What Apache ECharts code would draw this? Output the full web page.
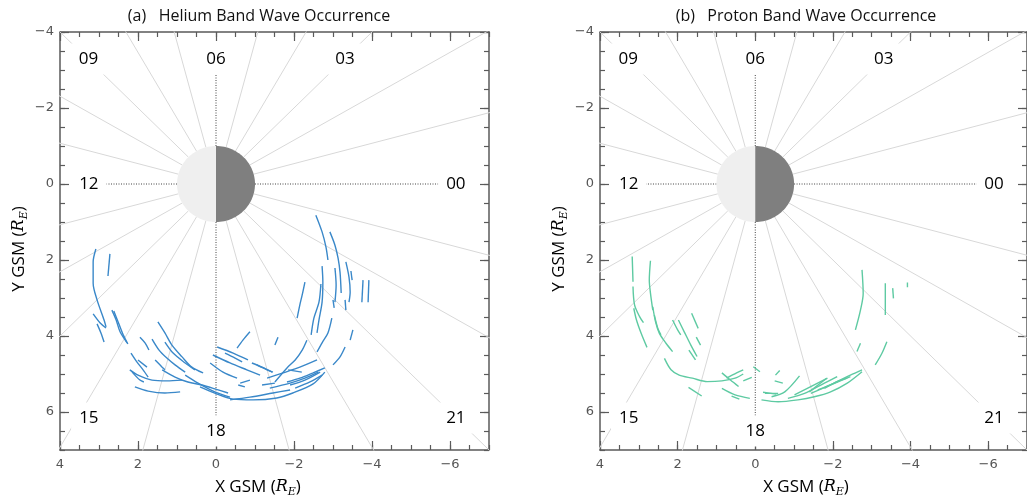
<!DOCTYPE html>
<html>
<head>
<meta charset="utf-8">
<script src="https://cdn.jsdelivr.net/npm/echarts@6/dist/echarts.min.js"></script>
<style>
  html, body { margin: 0; padding: 0; background: #fff; }
  #chart { width: 1027px; height: 501px; }
</style>
</head>
<body>
<div id="chart"></div>
<script>
// ---- axis ranges and tick values (Earth radii, GSM) ----
const xRange = [-7, 4];
const yRange = [-4, 7];
const xMajorTicks = [-6, -4, -2, 0, 2, 4];
const yMajorTicks = [-4, -2, 0, 2, 4, 6];
const minorStep = 0.5;

// ---- panel titles ----
const panelTitles = ['(a)   Helium Band Wave Occurrence', '(b)   Proton Band Wave Occurrence'];

// ---- MLT labels and their anchor points (X, Y in R_E) ----
const mltText = ['09', '06', '03', '12', '00', '15', '18', '21'];
const mltX = [3.27, 0, -3.31, 3.26, -6.15, 3.26, 0, -6.15];
const mltY = [-3.29, -3.29, -3.29, 0, 0, 6.16, 6.5, 6.16];

// ---- wave event orbit segments: [X, Y] points in R_E ----
const heliumSegments = [
  [[3.08,1.71],[3.15,2.05],[3.15,2.61],[3.05,3.05],[2.87,3.58],[2.82,3.76]],
  [[2.72,1.84],[2.77,2.42]],
  [[3.15,3.42],[2.97,3.66],[2.82,3.79]],
  [[3.05,3.68],[2.95,3.92],[2.87,4.16]],
  [[2.67,3.32],[2.56,3.58],[2.46,3.89],[2.28,4.18]],
  [[2.62,3.34],[2.51,3.63],[2.38,3.97],[2.26,4.21]],
  [[1.49,3.63],[1.31,3.92],[1.13,4.24],[0.87,4.55],[0.62,4.82],[0.33,4.97]],
  [[1.95,4.03],[1.82,4.18],[1.72,4.37]],
  [[1.64,4.08],[1.46,4.37],[1.26,4.58],[1.05,4.76],[0.79,4.95]],
  [[1.31,4.16],[1.10,4.45],[0.79,4.71],[0.54,4.89]],
  [[2.18,4.45],[2.03,4.68],[1.87,4.89],[1.74,5.08]],
  [[2.0,4.63],[1.77,4.82]],
  [[1.56,4.63],[1.38,4.82],[1.31,4.89]],
  [[2.21,4.89],[2.0,5.03],[1.64,5.16],[1.26,5.18],[0.87,5.16]],
  [[2.15,4.95],[1.95,5.16],[1.85,5.21]],
  [[2.08,5.34],[1.74,5.45],[1.31,5.5],[0.92,5.47]],
  [[1.38,4.89],[1.05,5.08],[0.72,5.21],[0.36,5.29],[0.03,5.39],[-0.31,5.5]],
  [[0.79,5.03],[0.46,5.24],[0.03,5.47],[-0.36,5.61]],
  [[-0.03,4.29],[-0.44,4.45],[-0.82,4.63]],
  [[0.08,4.5],[-0.36,4.71],[-0.79,4.89],[-1.13,5.03]],
  [[0.15,4.71],[-0.18,4.95],[-0.54,5.11]],
  [[-1.05,4.76],[-1.31,4.89],[-1.46,4.95]],
  [[0.41,5.34],[-0.03,5.53],[-0.44,5.66],[-0.95,5.68],[-1.56,5.63],[-1.97,5.5],[-2.49,5.26],[-2.79,4.95]],
  [[-0.36,5.68],[-0.87,5.61],[-1.46,5.5],[-1.9,5.42]],
  [[-1.31,5.11],[-1.72,4.97],[-2.15,4.82],[-2.59,4.63]],
  [[-1.82,5.21],[-2.15,5.11],[-2.49,4.97],[-2.79,4.84]],
  [[-1.38,5.37],[-1.9,5.24],[-2.28,5.11],[-2.62,4.95]],
  [[-0.87,3.89],[-0.69,4.11],[-0.54,4.32]],
  [[-1.59,4.03],[-1.51,4.24]],
  [[-2.33,4.11],[-2.21,4.37],[-2.03,4.63],[-1.82,4.84],[-1.51,5.21]],
  [[-0.92,4.71],[-1.18,4.82],[-1.44,4.95]],
  [[-0.23,4.45],[-0.49,4.58],[-0.67,4.68]],
  [[-2.56,0.82],[-2.72,1.26],[-2.82,1.66],[-2.87,2.0]],
  [[-2.92,1.26],[-3.05,1.61],[-3.13,1.95],[-3.18,2.32],[-3.21,2.87]],
  [[-2.72,2.16],[-2.74,2.58],[-2.72,3.11],[-2.64,3.58],[-2.59,3.92]],
  [[-3.05,2.21],[-3.08,2.66],[-3.05,3.11]],
  [[-3.33,2.05],[-3.41,2.45],[-3.44,2.84],[-3.41,3.11]],
  [[-3.46,2.29],[-3.49,2.53]],
  [[-3.77,2.53],[-3.74,3.11]],
  [[-3.92,2.53],[-3.9,3.11]],
  [[-2.28,2.58],[-2.21,2.92],[-2.15,3.18],[-2.08,3.53]],
  [[-2.69,2.63],[-2.64,3.11],[-2.51,3.53],[-2.44,3.97]],
  [[-2.97,3.53],[-2.87,3.92],[-2.72,4.18],[-2.59,4.42]],
  [[-3.51,3.84],[-3.44,4.11]],
  [[-3.31,4.29],[-3.18,4.55],[-3.0,4.76]],
  [[-3.0,3.05],[-3.03,3.26]],
  [[-3.31,3.05],[-3.33,3.32]],
  [[-0.62,5.24],[-0.87,5.16]],
  [[-1.18,5.29],[-1.51,5.24]],
  [[-1.9,5.29],[-2.28,5.16],[-2.67,4.95]],
  [[-2.03,5.37],[-2.41,5.21],[-2.72,5.03]],
  [[-1.85,4.89],[-2.2,4.95]],
  [[-0.57,5.29],[-0.74,5.34]]
];

const protonSegments = [
  [[3.17,1.91],[3.15,2.57]],
  [[3.15,2.7],[3.11,3.18],[2.98,3.49],[2.88,3.65]],
  [[3.13,3.27],[3.06,3.58],[2.94,3.93],[2.79,4.3]],
  [[2.7,2.02],[2.73,2.53],[2.7,2.87],[2.64,3.32]],
  [[2.64,3.23],[2.57,3.62],[2.47,3.93],[2.3,4.19],[2.13,4.41]],
  [[2.6,3.45],[2.51,3.8],[2.43,3.97]],
  [[2.13,3.58],[2.0,3.84],[1.92,3.97]],
  [[1.98,3.58],[1.83,3.89],[1.66,4.24],[1.5,4.54]],
  [[1.64,3.4],[1.47,3.8]],
  [[1.52,4.03],[1.41,4.24]],
  [[1.71,4.37],[1.54,4.63]],
  [[2.34,4.59],[2.17,4.89],[1.96,5.03],[1.62,5.11],[1.24,5.2],[0.86,5.18],[0.52,5.11],[0.31,5.0]],
  [[1.72,5.35],[1.38,5.58]],
  [[0.86,4.97],[0.64,5.16],[0.43,5.33]],
  [[0.74,5.11],[0.48,4.97],[0.31,4.89]],
  [[0.86,5.38],[0.52,5.55],[0.14,5.64]],
  [[0.61,5.58],[0.41,5.66]],
  [[0.05,4.81],[-0.12,4.94]],
  [[-0.52,5.03],[-0.63,4.91]],
  [[-0.5,5.18],[-0.71,5.24]],
  [[0.31,5.18],[0.09,5.09]],
  [[-0.2,5.48],[-0.54,5.53]],
  [[-0.42,5.6],[-0.76,5.47],[-1.14,5.05]],
  [[-0.16,5.68],[-0.59,5.73],[-1.1,5.68],[-1.52,5.6],[-1.94,5.47],[-2.37,5.24],[-2.75,4.94]],
  [[-0.84,5.64],[-1.27,5.51],[-1.78,5.24],[-2.11,5.07]],
  [[-1.39,5.47],[-1.84,5.11]],
  [[-1.61,5.42],[-2.03,5.24],[-2.45,5.03],[-2.75,4.89]],
  [[-1.78,5.38],[-2.11,5.2],[-2.37,5.11]],
  [[-2.75,2.26],[-2.78,2.88],[-2.71,3.32],[-2.58,3.84]],
  [[-2.71,4.19],[-2.62,4.41]],
  [[-3.35,2.61],[-3.35,3.45]],
  [[-3.54,2.74],[-3.56,3.01]],
  [[-3.92,2.59],[-3.92,2.72]],
  [[-3.39,4.15],[-3.26,4.46],[-3.09,4.76]],
  [[-0.25,5.51],[-0.59,5.51]],
  [[-1.01,5.55],[-1.86,5.11]],
  [[-1.43,5.51],[-2.45,5.07]]
];

// ---- styling ----
const axisColor = '#5a5a5a';
const tickLabelColor = '#555';
const heliumColor = '#3a88c9';
const protonColor = '#5ecaa2';
const sansFont = '"Open Sans", "Noto Sans", sans-serif';
const grids = [
  { left: 60, top: 32, width: 429, height: 418 },
  { left: 600, top: 32, width: 432, height: 418 }
];

function signed(v) {
  return v < 0 ? '\u2212' + (-v) : String(v);
}

function makeAxes(dim, gridIndex) {
  const isX = dim === 'x';
  const range = isX ? xRange : yRange;
  const major = isX ? xMajorTicks : yMajorTicks;
  const posA = isX ? 'bottom' : 'left';
  const posB = isX ? 'top' : 'right';
  const base = {
    gridIndex, type: 'value', min: range[0], max: range[1], inverse: true,
    splitLine: { show: false },
    axisLine: { show: true, onZero: false, lineStyle: { color: axisColor, width: 1.5 } }
  };
  const tickStyle = { color: axisColor, width: 1.2 };
  const majorAxis = (pos, labels) => Object.assign({}, base, {
    position: pos, interval: 1,
    axisTick: { show: true, inside: true, length: 9, customValues: major, lineStyle: tickStyle },
    axisLabel: labels ? {
      show: true, customValues: major, formatter: signed, color: tickLabelColor,
      fontFamily: '"DejaVu Sans", sans-serif', fontSize: 13, margin: isX ? 8 : 6
    } : { show: false }
  });
  const minorAxis = (pos) => Object.assign({}, base, {
    position: pos, interval: minorStep,
    axisLine: { show: false, onZero: false },
    axisTick: { show: true, inside: true, length: 5, lineStyle: tickStyle },
    axisLabel: { show: false }
  });
  return [majorAxis(posA, true), minorAxis(posA), majorAxis(posB, false), minorAxis(posB)];
}

function panelSeries(p, segments, color) {
  const xi = p * 4, yi = p * 4;
  const out = [];
  // hour-sector guide lines
  for (let h = 0; h < 24; h++) {
    const phi = (h - 12) * 15 * Math.PI / 180;
    const c = Math.cos(phi), s = Math.sin(phi);
    const isMain = h % 6 === 0;
    let rEnd = 14;
    if (isMain) {
      const k = mltText.indexOf(String(h).padStart(2, '0'));
      rEnd = Math.hypot(mltX[k], mltY[k]);
    }
    out.push({
      type: 'line', xAxisIndex: xi, yAxisIndex: yi, silent: true, animation: false,
      symbol: 'none', z: 1,
      data: [[c, s], [rEnd * c, rEnd * s]],
      lineStyle: isMain
        ? { color: '#444', width: 1, type: [1, 1.5] }
        : { color: '#d8d8d8', width: 1 }
    });
  }
  // MLT labels on white boxes
  out.push({
    type: 'custom', xAxisIndex: xi, yAxisIndex: yi, silent: true, animation: false, z: 3,
    data: mltText.map((t, i) => [mltX[i], mltY[i], i]),
    renderItem: function (params, api) {
      const pt = api.coord([api.value(0), api.value(1)]);
      return {
        type: 'text', x: pt[0], y: pt[1],
        style: {
          text: mltText[api.value(2)], align: 'center', verticalAlign: 'middle',
          font: '17px ' + sansFont, fill: '#000',
          backgroundColor: '#fff', padding: [7, 8]
        }
      };
    }
  });
  // Earth: dayside (+X) light, nightside dark
  out.push({
    type: 'custom', xAxisIndex: xi, yAxisIndex: yi, silent: true, animation: false, z: 3,
    data: [[0, 0]],
    renderItem: function (params, api) {
      const half = (a0, a1, fill) => {
        const pts = [];
        for (let i = 0; i <= 60; i++) {
          const t = a0 + (a1 - a0) * i / 60;
          pts.push(api.coord([Math.cos(t), Math.sin(t)]));
        }
        return { type: 'polygon', shape: { points: pts }, style: { fill: fill } };
      };
      return {
        type: 'group',
        children: [
          half(-Math.PI / 2, Math.PI / 2, '#efefef'),
          half(Math.PI / 2, 3 * Math.PI / 2, '#7f7f7f')
        ]
      };
    }
  });
  // wave event segments
  segments.forEach(seg => {
    out.push({
      type: 'line', xAxisIndex: xi, yAxisIndex: yi, silent: true, animation: false,
      symbol: 'none', smooth: 0.3, z: 4, data: seg,
      lineStyle: { color: color, width: 1.4 }
    });
  });
  return out;
}

function axisTitle(x, y, rotated) {
  return {
    type: 'text', x: x, y: y, rotation: rotated ? Math.PI / 2 : 0, z: 10,
    style: {
      text: '{t|' + (rotated ? 'Y' : 'X') + ' GSM (}{r|R}{s|E}{t|)}',
      align: 'center', verticalAlign: 'middle',
      rich: {
        t: { fontFamily: sansFont, fontSize: 17, color: '#111', lineHeight: 22 },
        r: { fontFamily: '"DejaVu Serif", serif', fontStyle: 'italic', fontSize: 16, color: '#111', lineHeight: 22 },
        s: { fontFamily: '"DejaVu Serif", serif', fontStyle: 'italic', fontSize: 11, color: '#111', lineHeight: 12, verticalAlign: 'bottom' }
      }
    }
  };
}

const option = {
  backgroundColor: '#fff',
  animation: false,
  grid: grids.map(g => Object.assign({ containLabel: false }, g)),
  xAxis: [].concat(makeAxes('x', 0), makeAxes('x', 1)),
  yAxis: [].concat(makeAxes('y', 0), makeAxes('y', 1)),
  series: [].concat(
    panelSeries(0, heliumSegments, heliumColor),
    panelSeries(1, protonSegments, protonColor)
  ),
  graphic: [
    { type: 'text', x: 259, y: 16, z: 10, style: { text: panelTitles[0], align: 'center', verticalAlign: 'middle', font: '16px ' + sansFont, fill: '#111' } },
    { type: 'text', x: 806, y: 16, z: 10, style: { text: panelTitles[1], align: 'center', verticalAlign: 'middle', font: '16px ' + sansFont, fill: '#111' } },
    axisTitle(258, 487, false),
    axisTitle(806, 487, false),
    axisTitle(19, 249, true),
    axisTitle(559, 249, true)
  ]
};

const chart = echarts.init(document.getElementById('chart'), null, { renderer: 'canvas' });
chart.setOption(option);
</script>
</body>
</html>
